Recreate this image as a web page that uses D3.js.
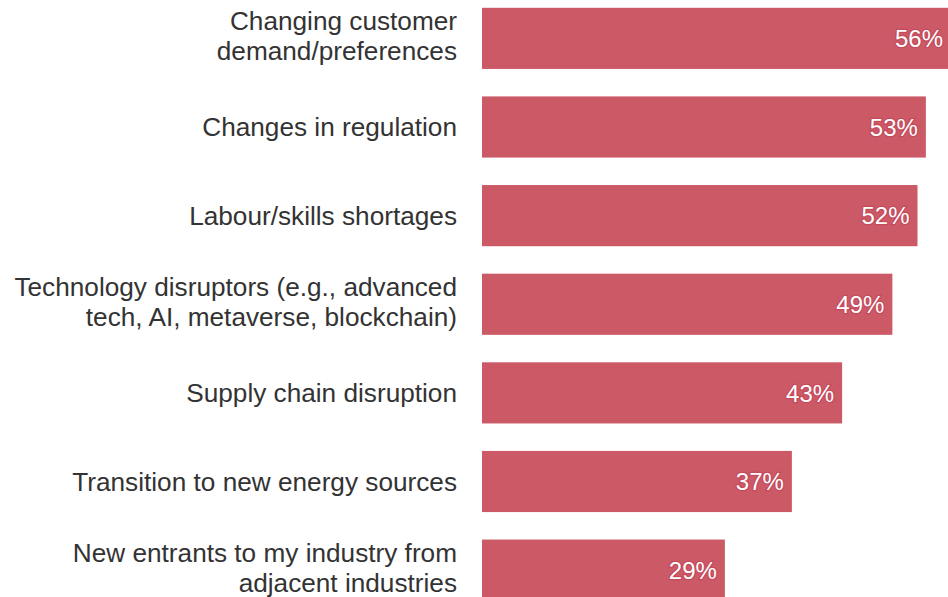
<!DOCTYPE html>
<html>
<head>
<meta charset="utf-8">
<script src="https://cdn.jsdelivr.net/npm/d3@7/dist/d3.min.js"></script>
<style>
  html, body { margin: 0; padding: 0; background: #fff; overflow: hidden; }
  svg { display: block; }
</style>
</head>
<body>
<svg id="chart" width="948" height="597"></svg>
<script>
// Share of respondents citing each factor as a driver of change
const categories = [
  ["Changing customer", "demand/preferences"],
  ["Changes in regulation"],
  ["Labour/skills shortages"],
  ["Technology disruptors (e.g., advanced", "tech, AI, metaverse, blockchain)"],
  ["Supply chain disruption"],
  ["Transition to new energy sources"],
  ["New entrants to my industry from", "adjacent industries"]
];
const values = [56, 53, 52, 49, 43, 37, 29];
const valueLabels = ["56%", "53%", "52%", "49%", "43%", "37%", "29%"];

const svg = d3.select("#chart");
const barColor = "#cc5966";
const font = "'Liberation Sans', Arial, Helvetica, sans-serif";

const x = d3.scaleLinear().domain([0, 56]).range([482, 951]);
const y = d3.scaleBand()
  .domain(d3.range(categories.length))
  .range([-5.5, 614])
  .paddingInner(0.31)
  .paddingOuter(0.15);

const rows = svg.selectAll("g.row")
  .data(values)
  .join("g")
  .attr("class", "row");

rows.append("rect")
  .attr("x", x(0))
  .attr("y", (d, i) => y(i))
  .attr("width", d => x(d) - x(0))
  .attr("height", y.bandwidth())
  .attr("fill", barColor);

rows.append("text")
  .attr("x", d => x(d) - 8)
  .attr("y", (d, i) => y(i) + y.bandwidth() / 2)
  .attr("dy", "0.36em")
  .attr("text-anchor", "end")
  .attr("font-family", font)
  .attr("font-size", 24)
  .attr("fill", "#fff")
  .attr("stroke", "#c44a5c")
  .attr("stroke-width", 2.5)
  .attr("paint-order", "stroke")
  .text((d, i) => valueLabels[i]);

// Category labels, right-aligned against the bars
const lineHeight = 30;
const labels = svg.selectAll("text.cat")
  .data(categories)
  .join("text")
  .attr("class", "cat")
  .attr("text-anchor", "end")
  .attr("font-family", font)
  .attr("font-size", 26.2)
  .attr("fill", "#333")
  .attr("y", (d, i) => y(i) + y.bandwidth() / 2 - (d.length - 1) * (lineHeight / 2 + 2.5));

labels.selectAll("tspan")
  .data(d => d)
  .join("tspan")
  .attr("x", 457)
  .attr("dy", (d, j) => j === 0 ? "0.36em" : lineHeight)
  .text(d => d);
</script>
</body>
</html>
